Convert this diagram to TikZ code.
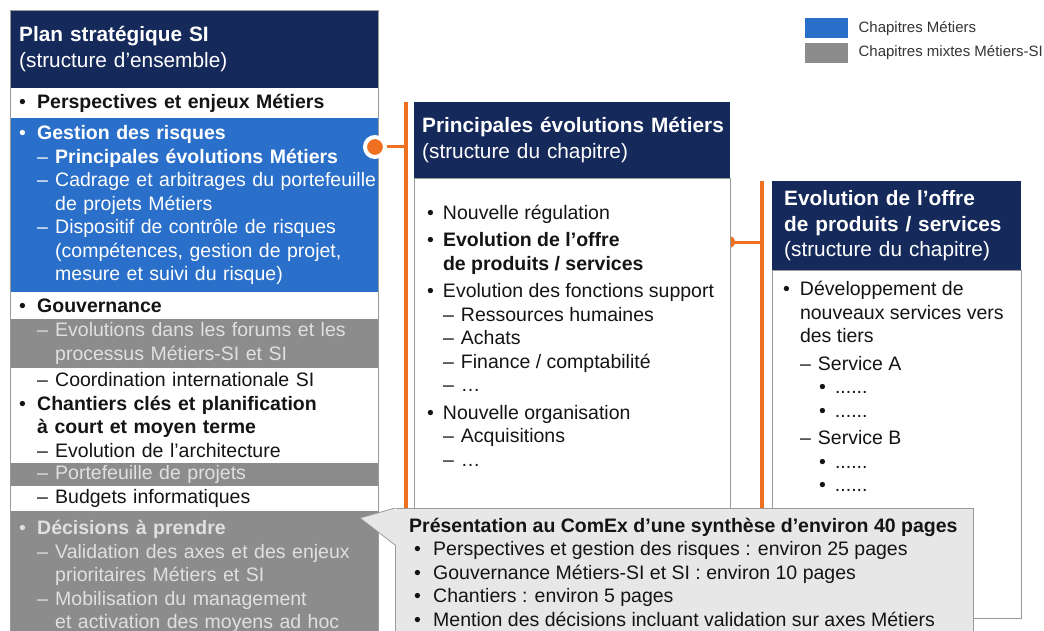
\documentclass[tikz,border=0pt]{standalone}
\usepackage{fontspec}
\setmainfont{Liberation Sans}
\usepackage{tikz}
\usetikzlibrary{positioning}
\definecolor{hdrblue}{HTML}{15295B}
\definecolor{metblue}{HTML}{2A6FC9}
\definecolor{mixgray}{HTML}{8C8C8C}
\definecolor{orng}{HTML}{F07021}
\definecolor{boxline}{HTML}{9A9A9A}
\definecolor{callfill}{HTML}{E7E7E7}
\definecolor{ink}{HTML}{141414}
\newcommand{\rowfont}{\fontsize{19.5}{23.5}\selectfont}
\newcommand{\hdrfont}{\fontsize{20.8}{25.5}\selectfont}
\newcommand{\bl}[2][18pt]{\makebox[#1][l]{\textbullet}\mbox{#2}}
\newcommand{\ds}[2][18pt]{\makebox[#1][l]{--}\mbox{#2}}

\begin{document}
\begin{tikzpicture}[x=1pt,y=-1pt,
  row/.style={anchor=north,text width=350pt,inner xsep=9pt,inner ysep=0pt,align=left,font=\rowfont,text=ink},
  metrow/.style={row,fill=metblue,text=white},
  mixrow/.style={row,fill=mixgray,text=white!88!black},
  hdrbox/.style={fill=hdrblue,text=white,align=left,font=\hdrfont,inner ysep=0pt,anchor=north west},
  bodybox/.style={draw=boxline,line width=0.8pt,fill=white,inner sep=0pt},
  lst/.style={align=left,font=\rowfont,text=ink,inner sep=0pt,anchor=north west},
  orngline/.style={orng,line width=3pt},
  orngbar/.style={orng,line width=4pt},
  orngdot/.style={fill=orng,draw=white,line width=4pt},
  legbox/.style={minimum width=43pt,minimum height=20pt,inner sep=0pt,anchor=north west},
  legtxt/.style={font=\fontsize{15}{18}\selectfont,text=black!80,inner sep=0pt,anchor=west},
]
\useasboundingbox (0,0) rectangle (1044,631);
\clip (0,0) rectangle (1044,631);

% structure d'ensemble
\node[hdrbox,text width=350pt,inner xsep=9pt,minimum height=78pt] (plan) at (10,10)
  {\textbf{Plan stratégique SI}\\(structure d’ensemble)};
\node[row,fill=white,minimum height=29pt,below=0pt of plan] (persp)
  {\bl{\textbf{Perspectives et enjeux Métiers}}};
\node[metrow,minimum height=174pt,below=0pt of persp] (risk)
  {\bl{\textbf{Gestion des risques}}\\
   \hspace*{18pt}\ds{\textbf{Principales évolutions Métiers}}\\
   \hspace*{18pt}\ds{Cadrage et arbitrages du portefeuille}\\
   \hspace*{36pt}\mbox{de projets Métiers}\\
   \hspace*{18pt}\ds{Dispositif de contrôle de risques}\\
   \hspace*{36pt}\mbox{(compétences, gestion de projet,}\\
   \hspace*{36pt}\mbox{mesure et suivi du risque)}};
\node[row,fill=white,minimum height=26pt,below=0pt of risk] (gouv)
  {\bl{\textbf{Gouvernance}}};
\node[mixrow,minimum height=49pt,below=0pt of gouv] (forum)
  {\hspace*{18pt}\ds{Evolutions dans les forums et les}\\
   \hspace*{36pt}\mbox{processus Métiers-SI et SI}};
\node[row,fill=white,minimum height=94pt,below=0pt of forum] (chant)
  {\hspace*{18pt}\ds{Coordination internationale SI}\\
   \bl{\textbf{Chantiers clés et planification}}\\
   \hspace*{18pt}\mbox{\textbf{à court et moyen terme}}\\
   \hspace*{18pt}\ds{Evolution de l’architecture}};
\node[mixrow,minimum height=23pt,below=0pt of chant] (portf)
  {\hspace*{18pt}\ds{Portefeuille de projets}};
\node[row,fill=white,minimum height=25pt,below=0pt of portf] (budg)
  {\hspace*{18pt}\ds{Budgets informatiques}};
\node[mixrow,minimum height=130pt,below=0pt of budg] (decis)
  {\bl{\textbf{Décisions à prendre}}\\
   \hspace*{18pt}\ds{Validation des axes et des enjeux}\\
   \hspace*{36pt}\mbox{prioritaires Métiers et SI}\\
   \hspace*{18pt}\ds{Mobilisation du management}\\
   \hspace*{36pt}\mbox{et activation des moyens ad hoc}};
\draw[boxline,line width=0.8pt] (plan.north west) rectangle (decis.south east);

% liens orange
\coordinate (dotL) at (375,147);
\coordinate (barL) at (406,102);
\draw[orngline] (dotL) -- (dotL -| barL);
\draw[orngbar] (barL) -- ++(0,540);
\draw[orngdot] (dotL) circle[radius=10pt];

\coordinate (dotR) at (729,242);
\coordinate (barR) at (762,181);
\draw[orngline] (dotR) -- (dotR -| barR);
\draw[orngbar] (barR) -- ++(0,330);
\fill[orng] (dotR) circle[radius=6pt];

% chapitre
\node[hdrbox,text width=300pt,inner xsep=8pt,minimum height=76pt] (mainhdr) at (414,102)
  {\mbox{\textbf{Principales évolutions Métiers}}\\(structure du chapitre)};
\node[bodybox,minimum width=316pt,minimum height=420pt,below=0pt of mainhdr] (mainbody) {};
\node[lst,below right=24pt and 13pt of mainbody.north west] (mainlst)
  {\strut\bl[16pt]{Nouvelle régulation}\\[4pt]
   \bl[16pt]{\textbf{Evolution de l’offre}}\\
   \hspace*{16pt}\mbox{\textbf{de produits / services}}\\[4pt]
   \bl[16pt]{Evolution des fonctions support}\\
   \hspace*{16pt}\ds{Ressources humaines}\\
   \hspace*{16pt}\ds{Achats}\\
   \hspace*{16pt}\ds{Finance / comptabilité}\\
   \hspace*{16pt}\ds{\ldots}\\[4pt]
   \bl[16pt]{Nouvelle organisation}\\
   \hspace*{16pt}\ds{Acquisitions}\\
   \hspace*{16pt}\ds{\ldots}};

% sous-chapitre
\node[hdrbox,text width=225pt,inner xsep=12pt,minimum height=89pt] (offrehdr) at (772,181)
  {\textbf{Evolution de l’offre}\\\textbf{de produits / services}\\(structure du chapitre)};
\node[bodybox,minimum width=249pt,minimum height=348pt,below=0pt of offrehdr] (offrebody) {};
\node[lst,below right=8.5pt and 11pt of offrebody.north west] (offrelst)
  {\strut\bl[17pt]{Développement de}\\
   \hspace*{17pt}\mbox{nouveaux services vers}\\
   \hspace*{17pt}\mbox{des tiers}\\[4pt]
   \hspace*{17pt}\ds{Service A}\\
   \hspace*{36pt}\bl[16pt]{......}\\
   \hspace*{36pt}\bl[16pt]{......}\\[4pt]
   \hspace*{17pt}\ds{Service B}\\
   \hspace*{36pt}\bl[16pt]{......}\\
   \hspace*{36pt}\bl[16pt]{......}};

% synthese ComEx
\coordinate (ctip) at (360,518);
\node[bodybox,fill=callfill,minimum width=578pt,minimum height=140pt,anchor=north west] (comex) at (395,508) {};
\fill[callfill] (ctip) -- ([xshift=1pt]comex.north west) -- ([xshift=1pt,yshift=-37pt]comex.north west) -- cycle;
\draw[boxline,line width=0.8pt] (comex.north west) -- (ctip) -- ([yshift=-37pt]comex.north west);
\node[lst,below right=7.5pt and 14pt of comex.north west] (comexlst)
  {\strut\textbf{Présentation au ComEx d’une synthèse d’environ 40 pages}\\
   \hspace*{5pt}\bl[19pt]{Perspectives et gestion des risques : environ 25 pages}\\
   \hspace*{5pt}\bl[19pt]{Gouvernance Métiers-SI et SI : environ 10 pages}\\
   \hspace*{5pt}\bl[19pt]{Chantiers : environ 5 pages}\\
   \hspace*{5pt}\bl[19pt]{Mention des décisions incluant validation sur axes Métiers}};

% legende
\node[legbox,fill=metblue] (legmet) at (805,18) {};
\node[legtxt,right=10pt of legmet] (legmettxt) {Chapitres Métiers};
\node[legbox,fill=mixgray,below=4pt of legmet] (legmix) {};
\node[legtxt,right=10pt of legmix] (legmixtxt) {Chapitres mixtes Métiers-SI};
\end{tikzpicture}
\end{document}
